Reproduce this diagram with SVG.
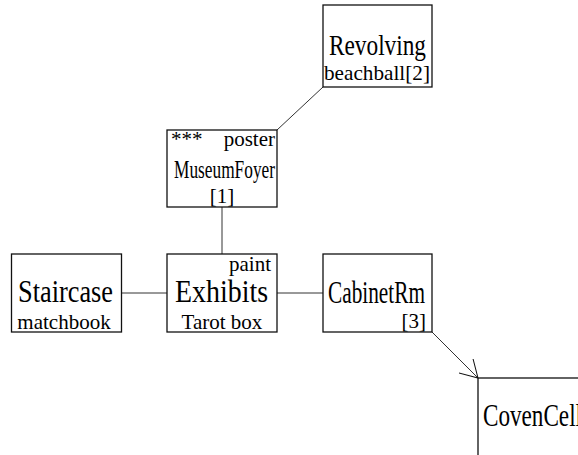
<svg xmlns="http://www.w3.org/2000/svg" width="578" height="455" viewBox="0 0 578 455">
<style>
.box{fill:#fff;stroke:#111;stroke-width:1.3}
text{font-family:'Liberation Serif','Times New Roman',serif;fill:#000}
.big{font-size:32px}
.sm{font-size:21px}
.c{text-anchor:middle}
.e{text-anchor:end}
.conn{stroke:#333;stroke-width:1;fill:none}
</style>
<defs>
<marker id="arr" viewBox="0 0 20 20" refX="17" refY="10" markerWidth="20" markerHeight="20" markerUnits="userSpaceOnUse" orient="auto">
<path d="M0,0 L17,10 L0,20" fill="none" stroke="#111" stroke-width="1"/>
</marker>
</defs>
<rect width="578" height="455" fill="#fff"/>
<g id="connectors">
<line class="conn" x1="277" y1="130" x2="323" y2="87"/>
<line class="conn" x1="222" y1="207" x2="222" y2="254"/>
<line class="conn" x1="121.5" y1="293" x2="167" y2="293"/>
<line class="conn" x1="277" y1="293" x2="323" y2="293"/>
<line class="conn" x1="432" y1="332" x2="478" y2="378" stroke="#111" marker-end="url(#arr)"/>
</g>
<g id="Revolving">
<rect class="box" x="323" y="5" width="109" height="82"/>
<text class="c" style="font-size:30px" x="377.5" y="54.5" textLength="97" lengthAdjust="spacingAndGlyphs">Revolving</text>
<text class="sm c" x="377" y="80" textLength="106" lengthAdjust="spacingAndGlyphs">beachball[2]</text>
</g>
<g id="MuseumFoyer">
<rect class="box" x="167" y="130" width="110" height="77"/>
<text class="sm" x="171" y="146">***</text>
<text class="sm e" x="275" y="146">poster</text>
<text class="c" style="font-size:25px" x="224.5" y="178" textLength="101" lengthAdjust="spacingAndGlyphs">MuseumFoyer</text>
<text class="sm c" x="222" y="203">[1]</text>
</g>
<g id="Staircase">
<rect class="box" x="11.5" y="254" width="110" height="78"/>
<text class="big c" x="65.5" y="302" textLength="95" lengthAdjust="spacingAndGlyphs">Staircase</text>
<text class="sm c" x="64" y="329">matchbook</text>
</g>
<g id="Exhibits">
<rect class="box" x="167" y="254" width="110" height="78"/>
<text class="sm e" x="271" y="271">paint</text>
<text class="big c" x="221.5" y="302" textLength="93" lengthAdjust="spacingAndGlyphs">Exhibits</text>
<text class="sm c" x="222" y="329">Tarot box</text>
</g>
<g id="CabinetRm">
<rect class="box" x="323" y="254" width="109" height="78"/>
<text class="big c" x="376.5" y="303" textLength="97" lengthAdjust="spacingAndGlyphs">CabinetRm</text>
<text class="sm e" x="426" y="328">[3]</text>
</g>
<g id="CovenCell">
<rect class="box" x="478" y="378" width="110" height="78"/>
<text class="big" x="483" y="426" textLength="99" lengthAdjust="spacingAndGlyphs">CovenCell</text>
</g>
</svg>
